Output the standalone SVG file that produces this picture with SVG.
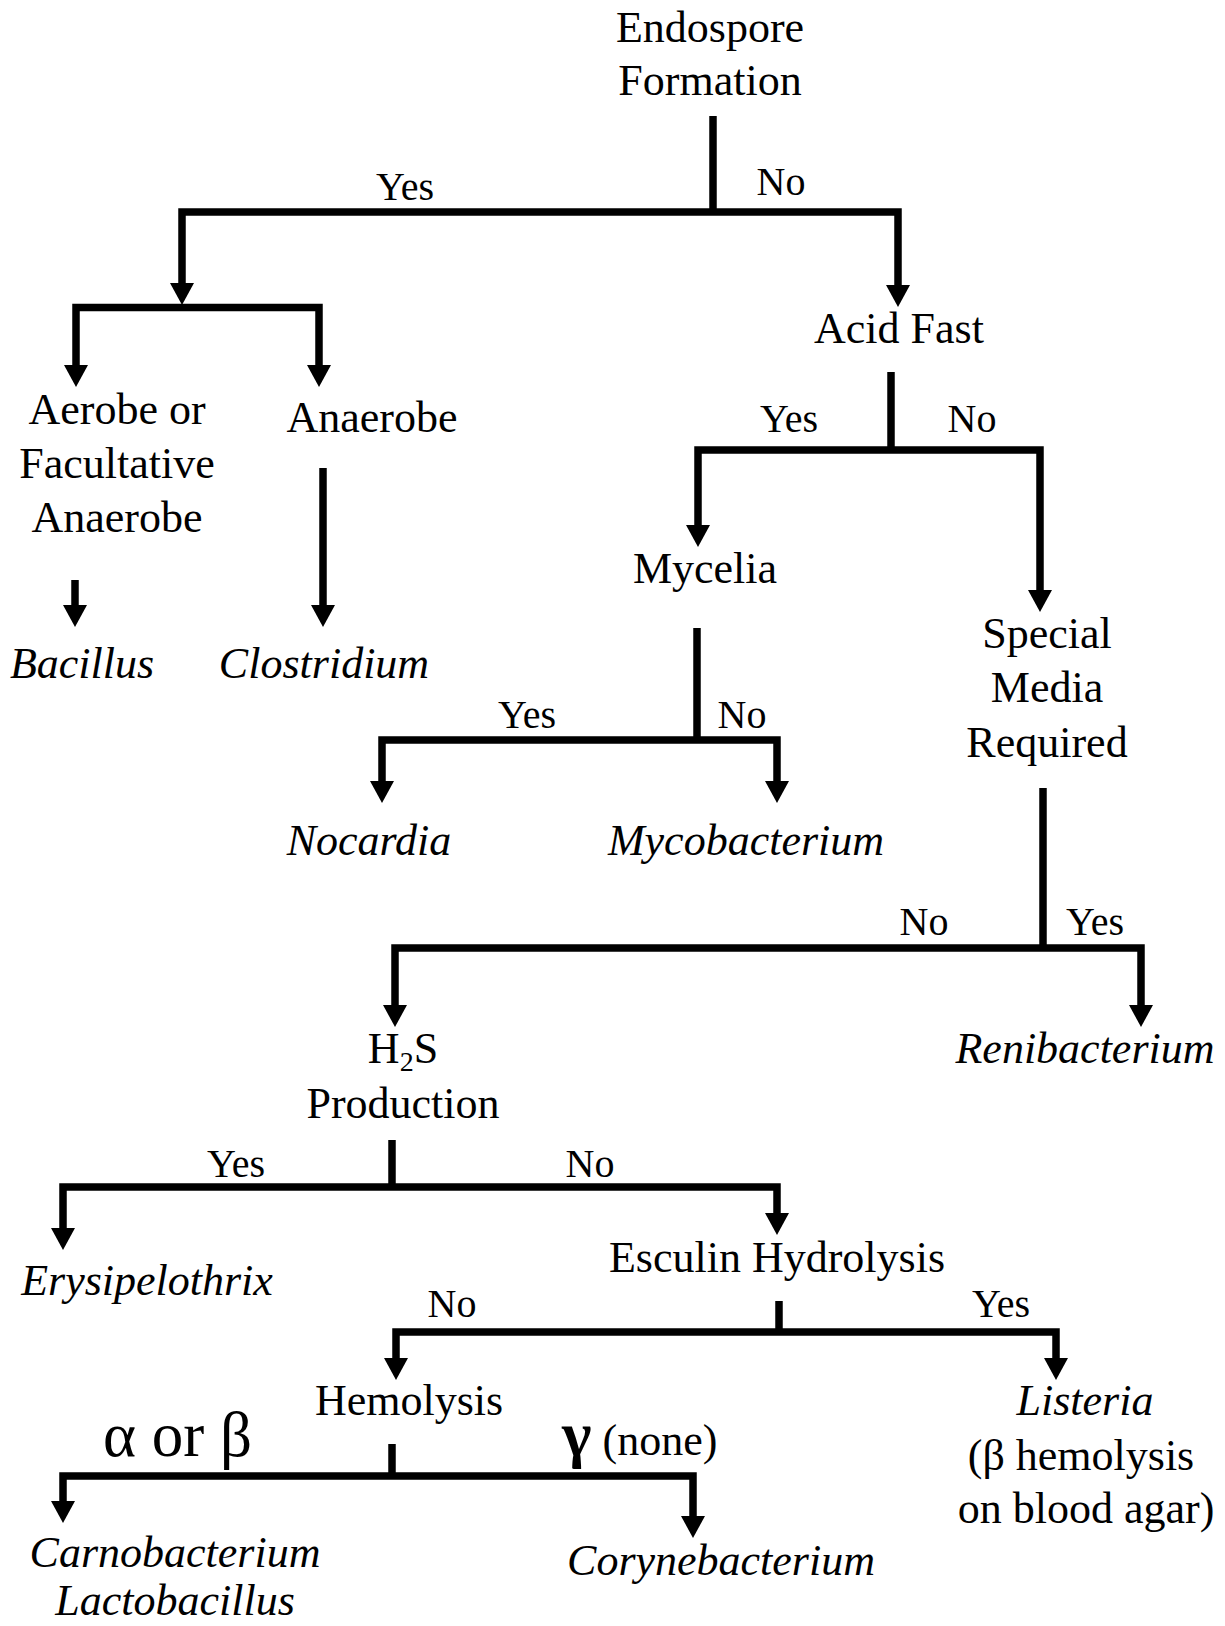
<svg xmlns="http://www.w3.org/2000/svg" width="1225" height="1626" viewBox="0 0 1225 1626">
<style>
text{font-family:"Liberation Serif","Times New Roman",serif;font-size:44px;fill:#000;text-anchor:middle}
.lbl{font-size:40px}
.it{font-style:italic}
.big{font-size:63px}
.c path{fill:none;stroke:#000;stroke-width:7.5;stroke-linejoin:miter}
.arr{marker-start:url(#ah);marker-end:url(#ah)}
.end{marker-end:url(#ah)}
</style>
<defs>
<marker id="ah" viewBox="0 0 22 24" refX="1" refY="12" markerWidth="22" markerHeight="24" markerUnits="userSpaceOnUse" orient="auto-start-reverse">
<path d="M0,0 L22,12 L0,24 z" fill="#000"/>
</marker>
</defs>
<rect width="1225" height="1626" fill="#fff"/>
<g id="connectors" class="c">
<path d="M713,116 V212"/>
<path class="arr" d="M182,284 V212 H898 V286"/>
<path class="arr" d="M76,366 V307.5 H319 V366"/>
<path d="M891,372 V450"/>
<path class="arr" d="M698,526 V450 H1040 V591"/>
<path class="end" d="M323,468 V606"/>
<path class="end" d="M75,580 V606"/>
<path d="M697,628 V740"/>
<path class="arr" d="M382,782 V740 H777 V782"/>
<path d="M1043,788 V948"/>
<path class="arr" d="M395,1006 V948 H1141 V1006"/>
<path d="M392,1140 V1187"/>
<path class="arr" d="M63,1229 V1187 H777 V1214"/>
<path d="M779,1301 V1332"/>
<path class="arr" d="M396,1359 V1332 H1056 V1359"/>
<path d="M392,1444 V1476"/>
<path class="arr" d="M63,1502 V1476 H693 V1517"/>
</g>
<g id="labels">
<text class="lbl" x="405" y="200">Yes</text>
<text class="lbl" x="781" y="195">No</text>
<text class="lbl" x="789" y="432">Yes</text>
<text class="lbl" x="972" y="432">No</text>
<text class="lbl" x="527" y="728">Yes</text>
<text class="lbl" x="742" y="728">No</text>
<text class="lbl" x="924" y="935">No</text>
<text class="lbl" x="1095" y="935">Yes</text>
<text class="lbl" x="236" y="1177">Yes</text>
<text class="lbl" x="590" y="1177">No</text>
<text class="lbl" x="452" y="1317">No</text>
<text class="lbl" x="1001" y="1317">Yes</text>
<text class="big" x="103" y="1456" style="text-anchor:start">α or β</text>
<text x="562" y="1455" style="text-anchor:start"><tspan class="big" font-weight="bold">γ</tspan> (none)</text>
</g>
<g id="endospore"><text x="710" y="42">Endospore</text><text x="710" y="95">Formation</text></g>
<g id="aerobe"><text x="117" y="424">Aerobe or</text><text x="117" y="478">Facultative</text><text x="117" y="532">Anaerobe</text></g>
<g id="anaerobe"><text x="372" y="432">Anaerobe</text></g>
<g id="acidfast"><text x="899" y="343">Acid Fast</text></g>
<g id="bacillus"><text class="it" x="82" y="678">Bacillus</text></g>
<g id="clostridium"><text class="it" x="324" y="678">Clostridium</text></g>
<g id="mycelia"><text x="705" y="583">Mycelia</text></g>
<g id="special"><text x="1047" y="648">Special</text><text x="1047" y="702">Media</text><text x="1047" y="757">Required</text></g>
<g id="nocardia"><text class="it" x="369" y="855">Nocardia</text></g>
<g id="mycobacterium"><text class="it" x="746" y="855">Mycobacterium</text></g>
<g id="h2s"><text x="403" y="1063">H<tspan font-size="28" dy="8">2</tspan><tspan dy="-8">S</tspan></text><text x="403" y="1118">Production</text></g>
<g id="renibacterium"><text class="it" x="1085" y="1063">Renibacterium</text></g>
<g id="erysipelothrix"><text class="it" x="147" y="1295">Erysipelothrix</text></g>
<g id="esculin"><text x="777" y="1272">Esculin Hydrolysis</text></g>
<g id="hemolysis"><text x="409" y="1415">Hemolysis</text></g>
<g id="listeria"><text class="it" x="1085" y="1415">Listeria</text><text x="1081" y="1470">(β hemolysis</text><text x="1086" y="1523">on blood agar)</text></g>
<g id="carno"><text class="it" x="175" y="1567">Carnobacterium</text><text class="it" x="175" y="1615">Lactobacillus</text></g>
<g id="coryne"><text class="it" x="721" y="1575">Corynebacterium</text></g>
</svg>
